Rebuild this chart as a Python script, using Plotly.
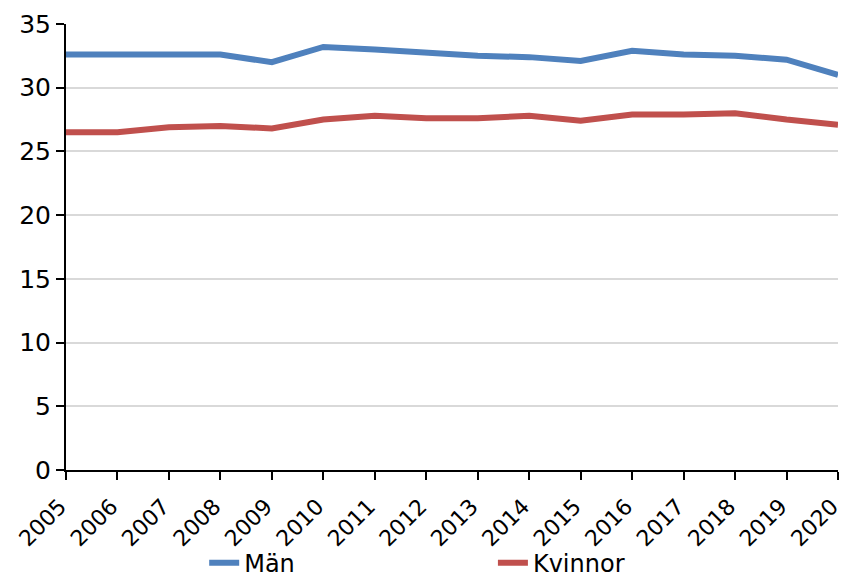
import plotly.graph_objects as go

years = list(range(2005, 2021))
man = [32.6, 32.6, 32.7, 32.6, 32.0, 33.2, 33.0, 32.7, 32.5, 32.4, 32.1, 32.9, 32.6, 32.5, 32.2, 31.0]
kvinnor = [26.5, 26.5, 26.9, 27.0, 26.8, 27.5, 27.8, 27.6, 27.6, 27.8, 27.4, 27.9, 27.9, 28.0, 27.5, 27.1]
y_ticks = [0, 5, 10, 15, 20, 25, 30, 35]

FONT = "DejaVu Sans"

fig = go.Figure()
fig.add_trace(go.Scatter(x=years, y=man, mode="lines", name="Män",
                         line=dict(color="#4F81BD", width=6), legend="legend"))
fig.add_trace(go.Scatter(x=years, y=kvinnor, mode="lines", name="Kvinnor",
                         line=dict(color="#C0504D", width=6), legend="legend2"))

legend_common = dict(orientation="h", yref="container", yanchor="middle", y=0.024,
                     xanchor="left",
                     font=dict(family=FONT, size=24, color="#000000"),
                     bgcolor="rgba(0,0,0,0)", borderwidth=0, itemwidth=30)

fig.update_layout(
    width=844, height=577,
    margin=dict(l=66, r=6, t=24, b=107),
    paper_bgcolor="white", plot_bgcolor="white",
    font=dict(family=FONT, color="#000000"),
    showlegend=True,
    legend=dict(legend_common, x=0.179),
    legend2=dict(legend_common, x=0.553),
    xaxis=dict(
        range=[2005, 2020], tickmode="array", tickvals=years,
        ticktext=[str(y) for y in years], tickangle=-45,
        tickfont=dict(family=FONT, size=22, color="#000000"),
        ticklabeloverflow="allow", ticklabelstandoff=5, ticklabelshift=-6,
        showline=True, linecolor="#000000", linewidth=2,
        ticks="outside", ticklen=8, tickwidth=2, tickcolor="#000000",
        showgrid=False, zeroline=False, automargin=False,
    ),
    yaxis=dict(
        range=[0, 35], tickmode="array", tickvals=y_ticks,
        tickfont=dict(family=FONT, size=25, color="#000000"),
        showline=True, linecolor="#000000", linewidth=2,
        ticks="outside", ticklen=8, tickwidth=2, tickcolor="#000000",
        showgrid=True, gridcolor="#D9D9D9", gridwidth=2,
        zeroline=False, automargin=False,
    ),
)

fig.write_html("out.html")
